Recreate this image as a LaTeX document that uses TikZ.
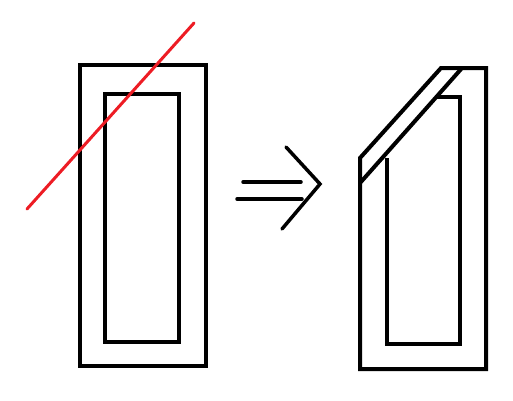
\documentclass[tikz,border=0pt]{standalone}
\definecolor{paintred}{RGB}{237,28,36}
\begin{document}
\begin{tikzpicture}[x=1pt,y=-1pt,
  blk/.style={draw=black,line width=4pt,line join=miter},
  redline/.style={draw=paintred,line width=3pt,line cap=round}]
\useasboundingbox (0,0) rectangle (513,400);
% left figure
\draw[blk] (80,65) rectangle (206,366);
\draw[blk] (105,94) rectangle (179,342);
\coordinate (r1) at (27,209);
\coordinate (r2) at (194,23);
\draw[redline] (r1) -- (r2);
% arrow
\draw[blk,line cap=round,line width=3.5pt] (243,182) -- (301,182);
\draw[blk,line cap=round,line width=3.5pt] (237,199) -- (302,199);
\draw[blk,line cap=round,line width=3.5pt,line join=miter] (286,147) -- (320,184) -- (282,229);
% right figure
\draw[blk] (360,158) -- (441,68) -- (486,68) -- (486,369) -- (360,369) -- cycle;
\draw[blk] (462,68) -- (360,183);
\draw[blk] (387,158) -- (387,344) -- (460,344) -- (460,97) -- (437,97);
\end{tikzpicture}
\end{document}
